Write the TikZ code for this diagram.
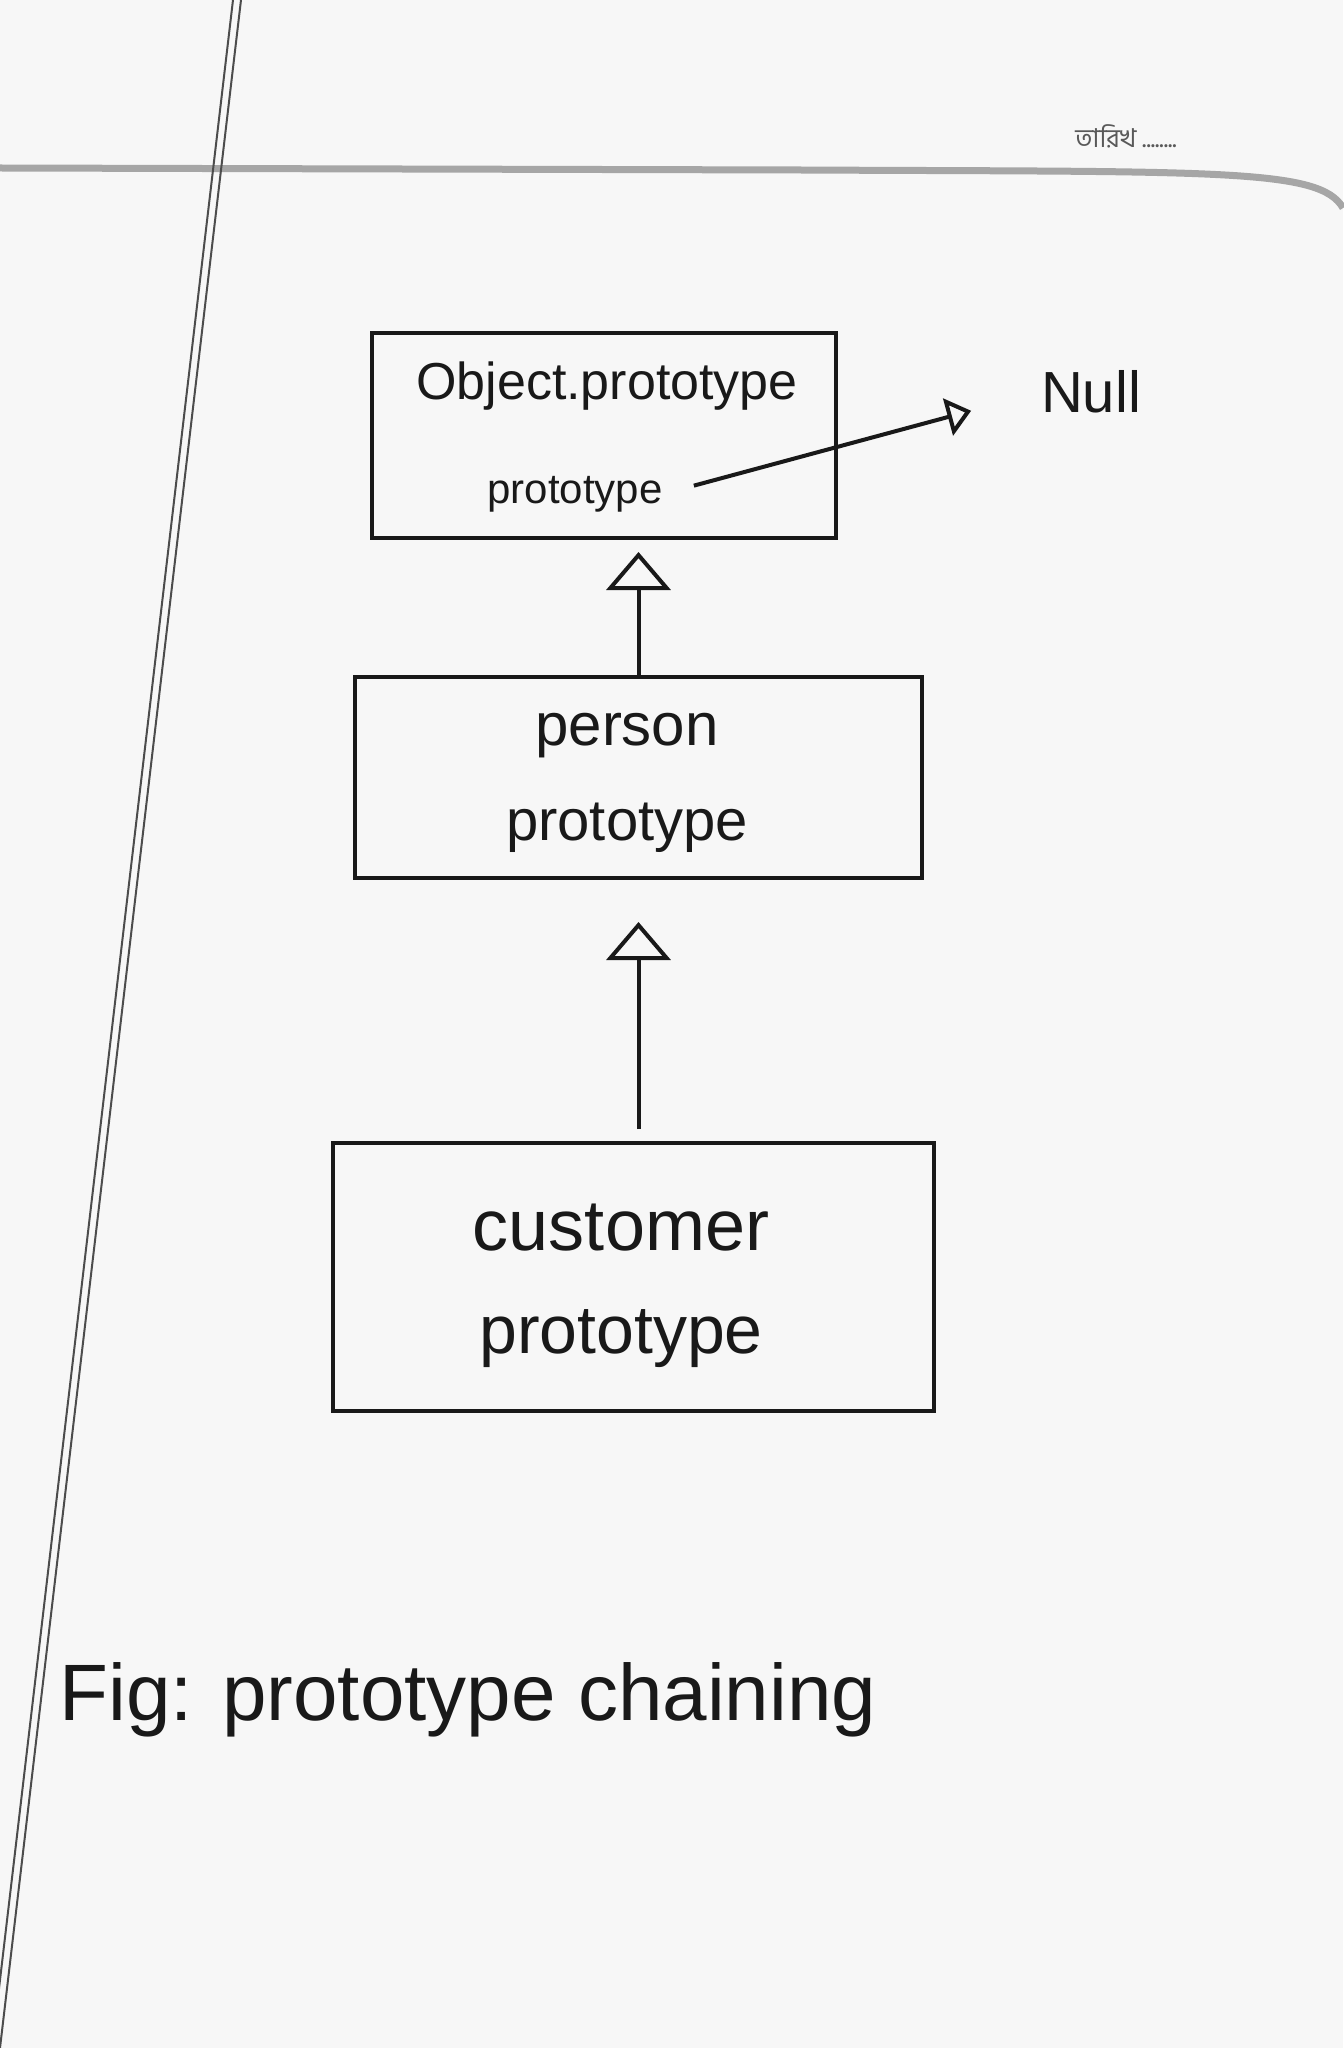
\documentclass[tikz,border=0pt]{standalone}
\usepackage{fontspec}
\setmainfont{Liberation Sans}
\newfontfamily\bnfont[Script=Bengali]{Hind Siliguri}
\usetikzlibrary{arrows.meta,calc}
\begin{document}
\begin{tikzpicture}[x=0.5pt,y=-0.5pt,
  ink/.style={line width=2pt,draw=black!90},
  box/.style={ink,rectangle,inner sep=0pt},
  lbl/.style={inner sep=0pt,text=black!90},
  inherit/.style={ink,-{Triangle[open,length=19pt,width=32pt,line width=2pt]}},
  nullarrow/.style={ink,-{Triangle[open,length=12pt,width=19pt,line width=2pt]}},
  rule/.style={draw=black!35,line width=3.5pt},
  margin/.style={draw=black!70,line width=1pt}]

% page
\fill[black!3] (0,0) rectangle (1343,2048);
\useasboundingbox (0,0) rectangle (1343,2048);

% printed notebook header and margin
\draw[rule] (0,168) -- (800,170) .. controls (1220,172) and (1320,168) .. (1343,208);
\node[lbl,text=black!65,font=\bnfont\fontsize{13pt}{15pt}\selectfont] (hdr) at (1126,136) {তারিখ ........};
\draw[margin] (233,0) -- (-8,2048);
\draw[margin] (241,0) -- (0,2048);

% Object.prototype
\node[box,minimum width=232pt,minimum height=102.5pt] (obj) at (604,435.5) {};
\node[lbl,font=\fontsize{26pt}{30pt}\selectfont] (objname) at (607,386) {Object.prototype};
\node[lbl,font=\fontsize{21pt}{25pt}\selectfont] (objproto) at (575,494) {prototype};
\node[lbl,font=\fontsize{29pt}{33pt}\selectfont] (null) at (1091,392) {Null};

% person
\node[box,minimum width=283.5pt,minimum height=100.5pt] (person) at (638.5,777.5) {};
\node[lbl,font=\fontsize{30pt}{34pt}\selectfont] (pname) at (627,736) {person};
\node[lbl,font=\fontsize{29pt}{33pt}\selectfont] (pproto) at (627,828) {prototype};

% customer
\node[box,minimum width=300.5pt,minimum height=134pt] (cust) at (633.5,1277) {};
\node[lbl,font=\fontsize{36pt}{40pt}\selectfont] (cname) at (621,1228) {customer};
\node[lbl,font=\fontsize{34pt}{38pt}\selectfont] (cproto) at (621,1339) {prototype};

% prototype links
\draw[nullarrow,shorten <=16pt,shorten >=36pt] (objproto.east) -- (null.west);
\draw[inherit,shorten >=6pt] (person.north) -- (obj.south -| person.north);
\draw[inherit,shorten <=6pt,shorten >=21pt] (cust.north -| person.north) -- (person.south);

% caption
\node[lbl,anchor=west,font=\fontsize{40pt}{44pt}\selectfont] (cap) at (59,1700) {Fig: prototype chaining};
\end{tikzpicture}
\end{document}
